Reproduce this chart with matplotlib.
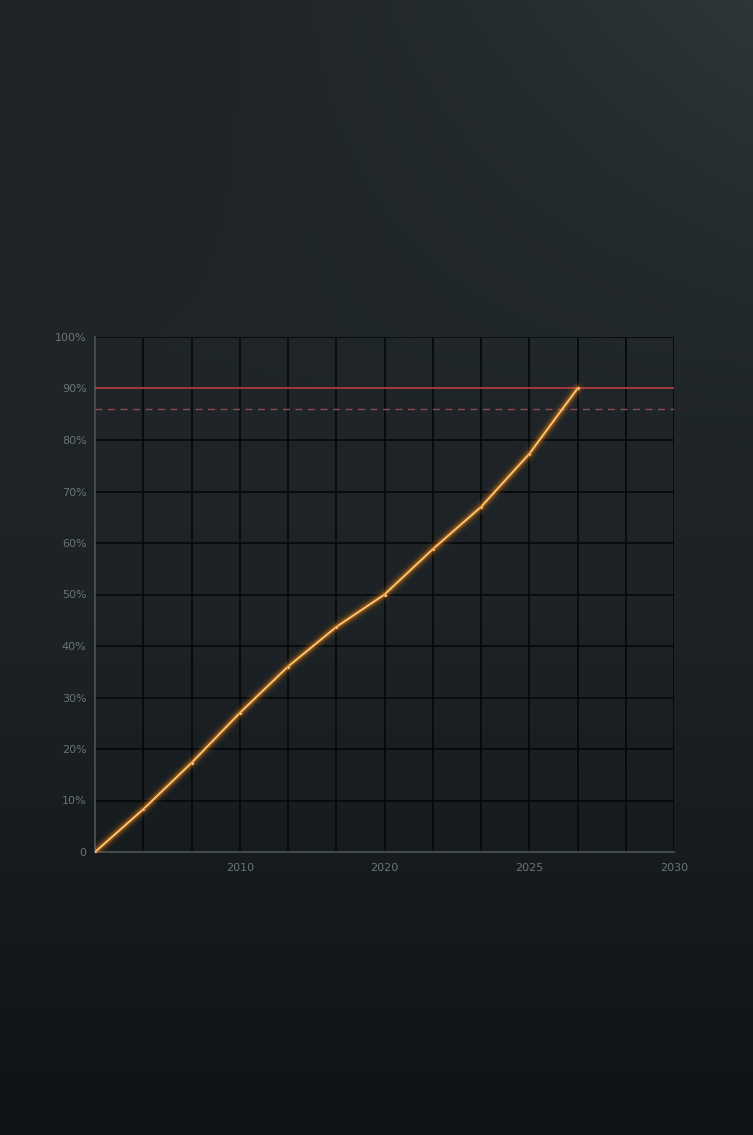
import matplotlib
matplotlib.use("Agg")
import matplotlib.pyplot as plt
import numpy as np

# data
x_pos = [0, 1, 2, 3, 4, 5, 6, 7, 8, 9, 10]
share = [0, 8.3, 17.3, 27.0, 36.0, 43.7, 50.0, 58.8, 67.0, 77.3, 90.0]
tick_pos = [3, 6, 9, 12]
tick_labels = ['2010', '2020', '2025', '2030']
y_ticks = [0, 10, 20, 30, 40, 50, 60, 70, 80, 90, 100]
y_labels = ['0'] + [f'{v}%' for v in y_ticks[1:]]
target = 90
threshold = 86

fig = plt.figure(figsize=(7.53, 11.35), dpi=100)

# background gradient: vertical stops plus a lighter patch at the top right
bg = fig.add_axes([0, 0, 1, 1])
bg.set_axis_off()
h, w = 400, 200
yy, xx = np.mgrid[0:1:h * 1j, 0:1:w * 1j]
stops_y = [0.0, 0.3, 0.55, 0.8, 1.0]
stops_c = np.array([[0x1e, 0x23, 0x26], [0x1f, 0x25, 0x28], [0x1c, 0x22, 0x25],
                    [0x15, 0x1a, 0x1d], [0x0f, 0x13, 0x16]]) / 255
img = np.stack([np.interp(yy, stops_y, stops_c[:, k]) for k in range(3)], axis=-1)
patch = (np.clip((xx - 0.2) / 0.8, 0, 1) * np.clip(1 - yy / 0.4, 0, 1)) ** 1.2
img = img + (np.array([0x2d, 0x36, 0x39]) / 255 - stops_c[0])[None, None, :] * patch[..., None]
bg.imshow(np.clip(img, 0, 1), aspect='auto', extent=[0, 1, 0, 1], origin='upper')
bg.set_xlim(0, 1)
bg.set_ylim(0, 1)

ax = fig.add_axes([95 / 753, 1 - 852 / 1135, 579 / 753, 515 / 1135])
ax.patch.set_alpha(0)
ax.set_xlim(0, 12)
ax.set_ylim(0, 100)

# black grid
for gx in range(1, 13):
    ax.axvline(gx, color='#060708', lw=1.2, zorder=1)
for gy in y_ticks[1:]:
    ax.axhline(gy, color='#060708', lw=1.2, zorder=1)

for s in ['top', 'right']:
    ax.spines[s].set_visible(False)
for s in ['left', 'bottom']:
    ax.spines[s].set_color('#4e5558')
    ax.spines[s].set_linewidth(1.2)

# reference lines
ax.axhline(target, color='#c9474c', lw=1.1, zorder=3)
ax.axhline(threshold, color='#8e4a55', lw=1.0, ls=(0, (5, 4)), zorder=3)

# glowing line
for lw, a in [(10, 0.06), (6.5, 0.13), (4, 0.28)]:
    ax.plot(x_pos, share, color='#ff8a12', lw=lw, alpha=a, solid_capstyle='round', zorder=4)
ax.plot(x_pos, share, color='#ffc46e', lw=1.4, zorder=5)
ax.plot(x_pos, share, 'o', color='#ffd79a', ms=2.2, mec='#d07a2a', mew=0.5, zorder=6)

ax.set_xticks(tick_pos)
ax.set_xticklabels(tick_labels)
ax.set_yticks(y_ticks)
ax.set_yticklabels(y_labels)
ax.tick_params(axis='both', length=0, colors='#6c7376', labelsize=8)
ax.tick_params(axis='x', pad=8)
ax.tick_params(axis='y', pad=6)

fig.savefig('out.png', dpi=100)
